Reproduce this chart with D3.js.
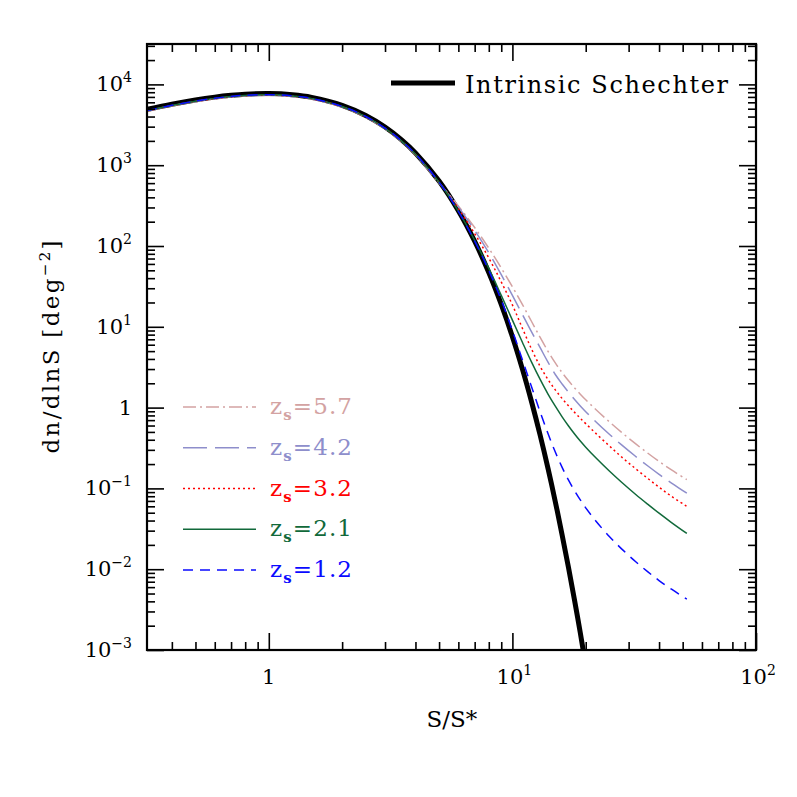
<!DOCTYPE html>
<html>
<head>
<meta charset="utf-8">
<script src="https://cdn.jsdelivr.net/npm/d3@7"></script>
<style>
  html, body { margin: 0; padding: 0; background: #fff; }
  svg text { font-family: "DejaVu Serif", serif; fill: #000; }
</style>
</head>
<body>
<div id="chart"></div>
<script>
// S/S* sample points shared by every curve
var sRatio = [0.316, 0.4, 0.5, 0.6, 0.7, 0.8, 1, 1.25, 1.5, 2, 2.5, 3, 3.5, 4, 5, 6, 7, 8, 9, 10,
              11, 12, 13, 14, 15, 16, 17, 18, 19, 20, 22, 25, 28, 32, 36, 40, 45, 52];

// dn/dlnS [deg^-2]
var intrinsic = [4898, 5689, 6424, 6958, 7323, 7554, 7691, 7438, 6910, 5515, 4129, 2967, 2073, 1419, 636, 273.6, 114.5, 46.9, 18.9, 7.54,
                 2.974, 1.164, 0.455, 0.177, 0.0685, 0.0265, 0.0104, 0.0041, 0.00163, 0.00064, null, null, null, null, null, null, null, null];
var lensedZ57 = [4653, 5405, 6103, 6610, 6957, 7176, 7306, 7066, 6565, 5239, 3923, 2819, 1969, 1348, 604, 313.3, 169.2, 94.0, 53.4, 31.2,
                 18.81, 11.55, 7.38, 4.98, 3.573, 2.709, 2.145, 1.751, 1.465, 1.249, 0.948, 0.667, 0.4966, 0.358, 0.2723, 0.2156, 0.1692, 0.1285];
var lensedZ42 = [4678, 5433, 6135, 6645, 6993, 7214, 7345, 7103, 6599, 5267, 3943, 2833, 1980, 1355, 607.4, 303.6, 156.6, 82.5, 44.15, 24.45,
                 14.14, 8.57, 5.51, 3.65, 2.566, 1.957, 1.550, 1.262, 1.050, 0.891, 0.669, 0.468, 0.3477, 0.2497, 0.1893, 0.1493, 0.1163, 0.0871];
var lensedZ32 = [4702, 5461, 6167, 6680, 7030, 7252, 7383, 7140, 6634, 5294, 3964, 2848, 1990, 1362, 610.7, 289.1, 142.3, 71.1, 35.9, 18.65,
                 9.54, 5.26, 3.23, 2.227, 1.655, 1.295, 1.051, 0.873, 0.738, 0.633, 0.480, 0.3356, 0.2466, 0.1758, 0.1324, 0.1035, 0.0798, 0.0600];
var lensedZ21 = [4727, 5490, 6199, 6714, 7067, 7290, 7422, 7178, 6668, 5322, 3984, 2863, 2000, 1369, 614, 270, 117.7, 52.8, 24.5, 12.1,
                 6.4, 3.63, 2.23, 1.47, 1.04, 0.769, 0.593, 0.472, 0.386, 0.324, 0.239, 0.164, 0.120, 0.0847, 0.0634, 0.0493, 0.0378, 0.0277];
var lensedZ12 = [4751, 5518, 6231, 6749, 7103, 7327, 7460, 7215, 6703, 5350, 4005, 2878, 2011, 1376, 616.6, 268.9, 115.2, 49.7, 21.5, 8.97,
                 3.88, 1.786, 0.882, 0.477, 0.282, 0.182, 0.1265, 0.0935, 0.0721, 0.0575, 0.0395, 0.0254, 0.01798, 0.01245, 0.00927, 0.00724, 0.00565, 0.00427];

var zLabels = ["5.7", "4.2", "3.2", "2.1", "1.2"];
var xTickLabels = [["1", ""], ["10", "1"], ["10", "2"]];
var yTickLabels = [["10", "\u22123"], ["10", "\u22122"], ["10", "\u22121"], ["1", ""], ["10", "1"], ["10", "2"], ["10", "3"], ["10", "4"]];

var series = [
    {values: lensedZ57, color: "#d3a2a2", dash: "13,4,2,4"},
    {values: lensedZ42, color: "#8e8ecb", dash: "24,8"},
    {values: lensedZ32, color: "#ff0000", dash: "2,3"},
    {values: lensedZ21, color: "#11693a", dash: null},
    {values: lensedZ12, color: "#0a0aff", dash: "10,7"}
];

var width = 797, height = 797;
var plotLeft = 147, plotRight = 756, plotTop = 44, plotBottom = 650;

var svg = d3.select("#chart").append("svg")
    .attr("width", width)
    .attr("height", height);

var x = d3.scaleLog().domain([Math.pow(10, -0.5), 100]).range([plotLeft, plotRight]);
var y = d3.scaleLog().domain([1e-3, Math.pow(10, 4.5)]).range([plotBottom, plotTop]);

function isMajor(v) {
    var l = Math.log10(v);
    return Math.abs(l - Math.round(l)) < 1e-6;
}

var xMajor = x.ticks().filter(isMajor), xMinor = x.ticks().filter(function(v) { return !isMajor(v); });
var yMajor = y.ticks().filter(isMajor), yMinor = y.ticks().filter(function(v) { return !isMajor(v); });

svg.append("clipPath").attr("id", "plot-clip")
    .append("rect").attr("x", plotLeft).attr("y", plotTop)
    .attr("width", plotRight - plotLeft).attr("height", plotBottom - plotTop);

// curves
function lineFor(values) {
    return d3.line()
        .defined(function(d, i) { return values[i] != null; })
        .x(function(d) { return x(d); })
        .y(function(d, i) { return y(values[i]); })
        .curve(d3.curveCatmullRom.alpha(0.5));
}

var curves = svg.append("g").attr("clip-path", "url(#plot-clip)");

curves.append("path")
    .datum(sRatio)
    .attr("d", lineFor(intrinsic))
    .attr("fill", "none")
    .attr("stroke", "#000")
    .attr("stroke-width", 5);

series.forEach(function(s) {
    curves.append("path")
        .datum(sRatio)
        .attr("d", lineFor(s.values))
        .attr("fill", "none")
        .attr("stroke", s.color)
        .attr("stroke-width", 1.5)
        .attr("stroke-dasharray", s.dash);
});

// ticks on all four sides, pointing in
function ticks(axisFn, scale, values, size, tx, ty) {
    var g = svg.append("g")
        .attr("transform", "translate(" + tx + "," + ty + ")")
        .call(axisFn(scale).tickValues(values).tickSize(size).tickFormat(""));
    g.select(".domain").remove();
    g.selectAll(".tick line").attr("stroke", "#000").attr("stroke-width", 1.6);
}
ticks(d3.axisBottom, x, xMinor, -8, 0, plotBottom);
ticks(d3.axisBottom, x, xMajor, -17, 0, plotBottom);
ticks(d3.axisTop, x, xMinor, -8, 0, plotTop);
ticks(d3.axisTop, x, xMajor, -17, 0, plotTop);
ticks(d3.axisLeft, y, yMinor, -8, plotLeft, 0);
ticks(d3.axisLeft, y, yMajor, -17, plotLeft, 0);
ticks(d3.axisRight, y, yMinor, -8, plotRight, 0);
ticks(d3.axisRight, y, yMajor, -17, plotRight, 0);

svg.append("rect")
    .attr("x", plotLeft).attr("y", plotTop)
    .attr("width", plotRight - plotLeft).attr("height", plotBottom - plotTop)
    .attr("fill", "none")
    .attr("stroke", "#000")
    .attr("stroke-width", 2.2);

// tick labels
function powerLabel(sel, parts) {
    sel.append("tspan").text(parts[0]);
    if (parts[1]) sel.append("tspan").attr("dy", -9).attr("font-size", 14).text(parts[1]);
}

xMajor.forEach(function(v, i) {
    var t = svg.append("text")
        .attr("x", x(v) + (i ? 2 : 0))
        .attr("y", plotBottom + 34)
        .attr("text-anchor", "middle")
        .attr("font-size", 21);
    powerLabel(t, xTickLabels[i]);
});

yMajor.forEach(function(v, i) {
    var t = svg.append("text")
        .attr("x", 132)
        .attr("y", y(v) + 7)
        .attr("text-anchor", "end")
        .attr("font-size", 21);
    powerLabel(t, yTickLabels[i]);
});

// axis titles
svg.append("text")
    .attr("x", 452).attr("y", 727)
    .attr("text-anchor", "middle")
    .attr("font-size", 23)
    .text("S/S*");

var yt = svg.append("text")
    .attr("transform", "translate(59,347) rotate(-90)")
    .attr("text-anchor", "middle")
    .attr("font-size", 23)
    .attr("textLength", 213);
yt.append("tspan").text("dn/dlnS [deg");
yt.append("tspan").attr("dy", -9).attr("font-size", 15).text("\u22122");
yt.append("tspan").attr("dy", 9).text("]");

// legend: intrinsic curve
svg.append("line")
    .attr("x1", 391).attr("x2", 455).attr("y1", 83).attr("y2", 83)
    .attr("stroke", "#000").attr("stroke-width", 5);
svg.append("text")
    .attr("x", 465).attr("y", 93)
    .attr("font-size", 24)
    .attr("textLength", 263)
    .text("Intrinsic Schechter");

// legend: lensed curves
var legendY = d3.scalePoint().domain(zLabels).range([407, 570]);
series.forEach(function(s, i) {
    var ly = legendY(zLabels[i]);
    svg.append("line")
        .attr("x1", 183).attr("x2", 256).attr("y1", ly).attr("y2", ly)
        .attr("stroke", s.color).attr("stroke-width", 1.5)
        .attr("stroke-dasharray", s.dash);
    var t = svg.append("text")
        .attr("x", 270).attr("y", ly + 7)
        .attr("font-size", 23)
        .style("fill", s.color)
        .attr("textLength", 82);
    t.append("tspan").text("z");
    t.append("tspan").attr("dy", 6).attr("font-size", 15).attr("font-weight", "bold").text("s");
    t.append("tspan").attr("dy", -6).text("=" + zLabels[i]);
});
</script>
</body>
</html>
